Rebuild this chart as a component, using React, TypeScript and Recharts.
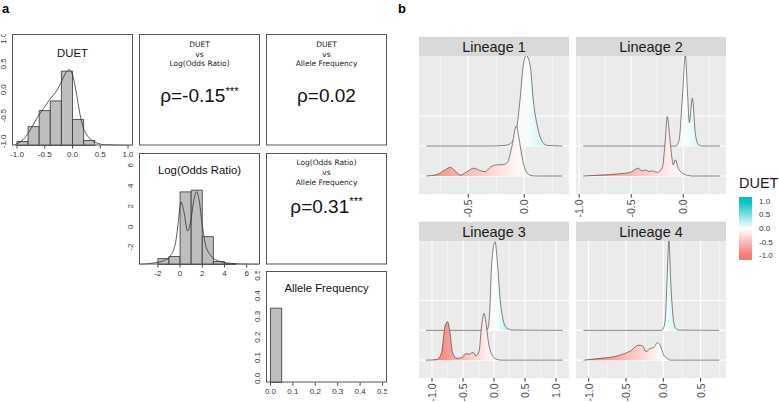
import React from 'react';
import {
  ComposedChart,
  Line,
  Area,
  XAxis,
  YAxis,
  CartesianGrid,
  ReferenceArea,
} from 'recharts';

const FONT = '"Liberation Sans", Arial, sans-serif';
const SMALL_FONT = '"DejaVu Sans", Verdana, sans-serif';

// ---------- panel a: histograms (bin edges, heights scaled so tallest = 1) ----------
const duetEdges = [-1.0, -0.8, -0.6, -0.4, -0.2, 0.0, 0.2, 0.4];
const duetHeights = [0.054, 0.254, 0.47, 0.6, 1.0, 0.35, 0.067];
const duetDensity = [
  { x: -1.04, y: 0.01 }, { x: -0.89, y: 0.08 }, { x: -0.76, y: 0.21 },
  { x: -0.64, y: 0.37 }, { x: -0.52, y: 0.5 }, { x: -0.39, y: 0.64 },
  { x: -0.3, y: 0.72 }, { x: -0.21, y: 0.84 }, { x: -0.12, y: 0.98 },
  { x: -0.06, y: 1.02 }, { x: 0.0, y: 0.95 }, { x: 0.06, y: 0.75 },
  { x: 0.12, y: 0.48 }, { x: 0.19, y: 0.25 }, { x: 0.28, y: 0.12 },
  { x: 0.4, y: 0.05 }, { x: 0.58, y: 0.01 }, { x: 1.05, y: 0 },
];

const logEdges = [-2, -1, 0, 1, 2, 3, 4, 5];
const logHeights = [0.08, 0.107, 0.977, 1.0, 0.375, 0.04, 0.012];
const logDensity = [
  { x: -3.6, y: 0 }, { x: -2.4, y: 0.02 }, { x: -1.5, y: 0.05 },
  { x: -0.86, y: 0.12 }, { x: -0.4, y: 0.3 }, { x: -0.2, y: 0.52 },
  { x: 0.08, y: 0.84 }, { x: 0.33, y: 0.72 }, { x: 0.68, y: 0.45 },
  { x: 0.96, y: 0.58 }, { x: 1.23, y: 0.86 }, { x: 1.5, y: 0.98 },
  { x: 1.7, y: 0.88 }, { x: 2.0, y: 0.53 }, { x: 2.3, y: 0.26 },
  { x: 2.77, y: 0.12 }, { x: 3.4, y: 0.05 }, { x: 4.3, y: 0.02 },
  { x: 5.5, y: 0.005 }, { x: 7.0, y: 0 },
];

const afEdges = [0, 0.05];
const afHeights = [1.0];

const duetTicks = [-1, -0.5, 0, 0.5, 1];
const logTicks = [-2, 0, 2, 4, 6];
const afTicks = [0, 0.1, 0.2, 0.3, 0.4, 0.5];

// ---------- panel b: density ridges per lineage (x = DUET, h = height in row units) ----------
const l1Upper = [
  { x: -0.875, h: 0 }, { x: -0.3, h: 0 }, { x: -0.17, h: 0.02 }, { x: -0.125, h: 0.08 },
  { x: -0.08, h: 0.35 }, { x: -0.054, h: 0.95 }, { x: -0.036, h: 1.6 }, { x: -0.009, h: 2.68 },
  { x: 0.018, h: 3.02 }, { x: 0.054, h: 2.66 }, { x: 0.08, h: 1.56 }, { x: 0.125, h: 0.54 },
  { x: 0.17, h: 0.1 }, { x: 0.21, h: 0.02 }, { x: 0.34, h: 0 },
];
const l1Lower = [
  { x: -0.875, h: 0 }, { x: -0.78, h: 0.05 }, { x: -0.7, h: 0.22 }, { x: -0.66, h: 0.29 },
  { x: -0.62, h: 0.18 }, { x: -0.57, h: 0.03 }, { x: -0.51, h: 0.15 }, { x: -0.45, h: 0.26 },
  { x: -0.4, h: 0.19 }, { x: -0.35, h: 0.14 }, { x: -0.3, h: 0.3 }, { x: -0.25, h: 0.37 },
  { x: -0.19, h: 0.38 }, { x: -0.15, h: 0.45 }, { x: -0.11, h: 0.99 }, { x: -0.07, h: 1.67 },
  { x: -0.05, h: 1.33 }, { x: -0.02, h: 0.65 }, { x: 0.01, h: 0.2 }, { x: 0.05, h: 0.03 },
  { x: 0.1, h: 0 }, { x: 0.34, h: 0 },
];
const l2Upper = [
  { x: -0.96, h: 0 }, { x: -0.07, h: 0 }, { x: -0.04, h: 0.2 }, { x: -0.01, h: 1.56 },
  { x: 0.02, h: 3.02 }, { x: 0.04, h: 1.8 }, { x: 0.058, h: 0.78 }, { x: 0.087, h: 1.59 },
  { x: 0.115, h: 0.44 }, { x: 0.144, h: 0.05 }, { x: 0.18, h: 0 }, { x: 0.35, h: 0 },
];
const l2Lower = [
  { x: -0.96, h: 0 }, { x: -0.8, h: 0.03 }, { x: -0.63, h: 0.07 }, { x: -0.51, h: 0.12 },
  { x: -0.43, h: 0.26 }, { x: -0.4, h: 0.17 }, { x: -0.365, h: 0.2 }, { x: -0.33, h: 0.15 },
  { x: -0.3, h: 0.17 }, { x: -0.25, h: 0.12 }, { x: -0.2, h: 0.29 }, { x: -0.173, h: 1.2 },
  { x: -0.154, h: 1.98 }, { x: -0.125, h: 1.1 }, { x: -0.096, h: 0.37 }, { x: -0.077, h: 0.54 },
  { x: -0.048, h: 0.25 }, { x: -0.01, h: 0.1 }, { x: 0.04, h: 0.02 }, { x: 0.1, h: 0 },
  { x: 0.35, h: 0 },
];
const l3Upper = [
  { x: -1.1, h: 0 }, { x: -0.12, h: 0 }, { x: -0.09, h: 0.14 }, { x: -0.065, h: 0.8 },
  { x: -0.04, h: 2.14 }, { x: 0.016, h: 2.98 }, { x: 0.06, h: 2.14 }, { x: 0.1, h: 1.03 },
  { x: 0.145, h: 0.37 }, { x: 0.2, h: 0.09 }, { x: 0.3, h: 0.01 }, { x: 1.11, h: 0 },
];
const l3Lower = [
  { x: -1.1, h: 0 }, { x: -0.92, h: 0.02 }, { x: -0.845, h: 0.26 }, { x: -0.79, h: 1.14 },
  { x: -0.75, h: 1.29 }, { x: -0.71, h: 0.92 }, { x: -0.67, h: 0.26 }, { x: -0.6, h: 0.06 },
  { x: -0.52, h: 0.09 }, { x: -0.45, h: 0.22 }, { x: -0.4, h: 0.2 }, { x: -0.34, h: 0.26 },
  { x: -0.29, h: 0.14 }, { x: -0.24, h: 0.31 }, { x: -0.2, h: 1.14 }, { x: -0.16, h: 1.57 },
  { x: -0.13, h: 1.26 }, { x: -0.09, h: 0.6 }, { x: -0.04, h: 0.2 }, { x: 0.04, h: 0.03 },
  { x: 0.12, h: 0 }, { x: 1.11, h: 0 },
];
const l4Upper = [
  { x: -1.07, h: 0 }, { x: -0.03, h: 0 }, { x: 0.004, h: 0.09 }, { x: 0.027, h: 0.37 },
  { x: 0.049, h: 1.59 }, { x: 0.075, h: 3.0 }, { x: 0.1, h: 1.59 }, { x: 0.13, h: 0.48 },
  { x: 0.16, h: 0.09 }, { x: 0.2, h: 0.01 }, { x: 0.75, h: 0 },
];
const l4Lower = [
  { x: -1.07, h: 0 }, { x: -0.84, h: 0.06 }, { x: -0.62, h: 0.14 }, { x: -0.44, h: 0.31 },
  { x: -0.33, h: 0.5 }, { x: -0.28, h: 0.48 }, { x: -0.23, h: 0.28 }, { x: -0.18, h: 0.39 },
  { x: -0.13, h: 0.42 }, { x: -0.076, h: 0.59 }, { x: -0.04, h: 0.48 }, { x: 0.0, h: 0.2 },
  { x: 0.05, h: 0.06 }, { x: 0.1, h: 0 }, { x: 0.75, h: 0 },
];

const lineages = ['Lineage 1', 'Lineage 2', 'Lineage 3', 'Lineage 4'];
const gridRows = [1, 2, 3];
const legendTicks = [-1, -0.5, 0, 0.5, 1];
const legendBar = [{ x: 0, top: 1.15 }, { x: 1, top: 1.15 }];

// DUET colour scale: -1 red, 0 white, 1 teal
const LOW = [248, 118, 109];
const MID = [255, 255, 255];
const HIGH = [0, 191, 196];
const duetColor = (v: number) => {
  const t = Math.max(-1, Math.min(1, v));
  const end = t < 0 ? LOW : HIGH;
  const f = Math.abs(t);
  const c = MID.map((m, i) => Math.round(m + (end[i] - m) * f));
  return `rgb(${c[0]},${c[1]},${c[2]})`;
};

const gradientStops = (from: number, to: number) =>
  Array.from({ length: 13 }, (_, i) => (
    <stop key={i} offset={`${(i / 12) * 100}%`} stopColor={duetColor(from + ((to - from) * i) / 12)} />
  ));

type Box = { x: number; y: number; w: number; h: number };

const cols = [12, 139, 266];
const rows = [34, 153, 271];
const BW = 121;
const BH = 111.5;
const box = (c: number, r: number): Box => ({ x: cols[c], y: rows[r], w: BW, h: BH });

const AX = 22;

function DiagPanel(props: {
  b: Box;
  xDomain: number[];
  yDomain: number[];
  xTicks: number[];
  yTicks: number[];
  fmt: (v: number) => string;
  edges: number[];
  heights: number[];
  density?: { x: number; y: number }[];
}) {
  const { b, xDomain, yDomain, xTicks, yTicks, fmt, edges, heights, density } = props;
  const xTick = (p: any) => (
    <text x={p.x} y={b.h + 9} textAnchor="middle" dominantBaseline="central"
      fontSize={8} fill="#333" fontFamily={FONT}>{fmt(p.payload.value)}</text>
  );
  const yTick = (p: any) => (
    <text x={AX - 8.5} y={p.y} transform={`rotate(-90, ${AX - 8.5}, ${p.y})`} textAnchor="middle"
      dominantBaseline="central" fontSize={8} fill="#333" fontFamily={FONT}>{fmt(p.payload.value)}</text>
  );
  return (
    <div style={{ position: 'absolute', left: b.x - AX, top: b.y }}>
      <ComposedChart width={b.w + AX} height={b.h + AX} data={edges.map((e) => ({ x: e }))}
        margin={{ top: 0, right: 0, bottom: 0, left: 0 }}>
        <XAxis type="number" dataKey="x" domain={xDomain} ticks={xTicks} tick={xTick} interval={0}
          tickSize={3} tickLine={{ stroke: '#444' }} axisLine={false} height={AX} allowDataOverflow />
        <YAxis yAxisId="v" type="number" domain={yDomain} ticks={yTicks} tick={yTick} interval={0}
          tickSize={3} tickLine={{ stroke: '#444' }} axisLine={false} width={AX} allowDataOverflow />
        <YAxis yAxisId="c" type="number" domain={[0, 1.5]} hide allowDataOverflow />
        {heights.map((h, i) => (
          <ReferenceArea key={i} yAxisId="c" x1={edges[i]} x2={edges[i + 1]} y1={0} y2={h}
            fill="#BEBEBE" fillOpacity={1} stroke="#333" strokeWidth={0.8} ifOverflow="visible" />
        ))}
        {density && (
          <Line yAxisId="c" data={density} dataKey="y" type="monotone" stroke="#333"
            strokeWidth={0.8} dot={false} isAnimationActive={false} />
        )}
      </ComposedChart>
    </div>
  );
}

const facets = [
  { left: 419, top: 56, h: 138, domain: [-0.94, 0.4], major: [-0.5, 0], minor: [-0.75, -0.25, 0.25], upper: l1Upper, lower: l1Lower },
  { left: 576, top: 56, h: 138, domain: [-1.03, 0.41], major: [-1, -0.5, 0], minor: [-0.75, -0.25, 0.25], upper: l2Upper, lower: l2Lower },
  { left: 419, top: 241, h: 137, domain: [-1.21, 1.21], major: [-1, -0.5, 0, 0.5, 1], minor: [-0.75, -0.25, 0.25, 0.75], upper: l3Upper, lower: l3Lower },
  { left: 576, top: 241, h: 137, domain: [-1.17, 0.84], major: [-1, -0.5, 0, 0.5], minor: [-0.75, -0.25, 0.25, 0.75], upper: l4Upper, lower: l4Lower },
];
const FW = 150;
const PAD = 8;

function Facet({ f, idx }: { f: (typeof facets)[number]; idx: number }) {
  const tick = (p: any) => (
    <text x={p.x} y={f.h + 5.5} transform={`rotate(-90, ${p.x}, ${f.h + 5.5})`} textAnchor="end"
      dominantBaseline="central" fontSize={10.5} fill="#4D4D4D" fontFamily={FONT}>
      {p.payload.value.toFixed(1)}
    </text>
  );
  const ridges = [
    { data: f.upper, base: 2 },
    { data: f.lower, base: 1 },
  ];
  return (
    <div style={{ position: 'absolute', left: f.left - PAD, top: f.top }}>
      <ComposedChart width={FW + 2 * PAD} height={f.h + 30}
        margin={{ top: 0, right: PAD, bottom: 0, left: PAD }}>
        <defs>
          {ridges.map((r, k) => (
            <linearGradient key={k} id={`ridge-${idx}-${k}`} x1="0" y1="0" x2="1" y2="0">
              {gradientStops(r.data[0].x, r.data[r.data.length - 1].x)}
            </linearGradient>
          ))}
        </defs>
        <CartesianGrid fill="#EBEBEB" fillOpacity={1} stroke="#FFFFFF" strokeWidth={0.55}
          horizontal={false} verticalValues={f.minor} />
        <CartesianGrid stroke="#FFFFFF" strokeWidth={1.1} verticalValues={f.major}
          horizontalValues={gridRows} />
        <XAxis type="number" dataKey="x" domain={f.domain} ticks={f.major} tick={tick} interval={0}
          tickSize={3.6} tickLine={{ stroke: '#333' }} axisLine={false} height={30} allowDataOverflow />
        <YAxis type="number" domain={[0.4, 5]} hide allowDataOverflow />
        {ridges.map((r, k) => (
          <Area key={k} data={r.data} dataKey={(d: any) => r.base + d.h} baseValue={r.base}
            type="monotone" fill={`url(#ridge-${idx}-${k})`} fillOpacity={1} stroke="#333"
            strokeWidth={0.6} isAnimationActive={false} />
        ))}
      </ComposedChart>
    </div>
  );
}

function Legend() {
  const tick = (p: any) => (
    <text x={20} y={p.y} dominantBaseline="central" fontSize={8} fill="#333" fontFamily={FONT}>
      {p.payload.value.toFixed(1)}
    </text>
  );
  return (
    <div style={{ position: 'absolute', left: 739, top: 197 }}>
      <ComposedChart width={40} height={63} data={legendBar}
        margin={{ top: 0, right: 0, bottom: 0, left: 0 }}>
        <defs>
          <linearGradient id="legend-grad" x1="0" y1="0" x2="0" y2="1">
            {gradientStops(1.15, -1.15)}
          </linearGradient>
        </defs>
        <XAxis type="number" dataKey="x" domain={[0, 1]} height={0} tick={false} tickLine={false}
          axisLine={false} />
        <YAxis type="number" orientation="right" domain={[-1.15, 1.15]} ticks={legendTicks}
          interval={0} tick={tick} width={27} tickLine={false} axisLine={false} allowDataOverflow />
        <Area dataKey="top" baseValue={-1.15} type="linear" fill="url(#legend-grad)" fillOpacity={1}
          stroke="none" isAnimationActive={false} />
      </ComposedChart>
    </div>
  );
}

const fmt1 = (v: number) => v.toFixed(1);
const fmt0 = (v: number) => String(v);

function CorrText({ cx, top, rhoY, lines, rho, stars }: {
  cx: number; top: number; rhoY: number; lines: string[]; rho: string; stars: string;
}) {
  return (
    <g>
      {lines.map((l, i) => (
        <text key={i} x={cx} y={top + i * 9.8} textAnchor="middle" fontSize={7.5} fill="#222"
          fontFamily={SMALL_FONT}>{l}</text>
      ))}
      <text x={cx} y={rhoY} textAnchor="middle" fontSize={19} fill="#111" fontFamily={FONT}>
        {rho}
        {stars && <tspan fontSize={11.5} dy={-7.5}>{stars}</tspan>}
      </text>
    </g>
  );
}

export default function App() {
  const boxes = [box(0, 0), box(1, 0), box(2, 0), box(1, 1), box(2, 1), box(2, 2)];
  return (
    <div style={{ position: 'absolute', left: 0, top: 0, width: 779, height: 402, background: '#fff', overflow: 'hidden', fontFamily: FONT }}>
      <DiagPanel b={box(0, 0)} xDomain={[-1.09, 1.09]} yDomain={[-1.08, 1.08]} xTicks={duetTicks}
        yTicks={duetTicks} fmt={fmt1} edges={duetEdges} heights={duetHeights} density={duetDensity} />
      <DiagPanel b={box(1, 1)} xDomain={[-3.7, 7.2]} yDomain={[-3.7, 7.2]} xTicks={logTicks}
        yTicks={logTicks} fmt={fmt0} edges={logEdges} heights={logHeights} density={logDensity} />
      <DiagPanel b={box(2, 2)} xDomain={[-0.02, 0.52]} yDomain={[-0.02, 0.52]} xTicks={afTicks}
        yTicks={afTicks} fmt={fmt1} edges={afEdges} heights={afHeights} />

      {facets.map((f, i) => (
        <Facet key={i} f={f} idx={i} />
      ))}
      <Legend />

      <svg width={779} height={402} style={{ position: 'absolute', left: 0, top: 0, pointerEvents: 'none' }}>
        <text x={2} y={12.5} fontSize={13} fontWeight="bold" fontFamily={FONT}>a</text>
        <text x={398} y={12.5} fontSize={13} fontWeight="bold" fontFamily={FONT}>b</text>

        {boxes.map((b, i) => (
          <rect key={i} x={b.x + 0.5} y={b.y + 0.5} width={b.w - 1} height={b.h - 1} fill="none"
            stroke="#555" strokeWidth={1} />
        ))}

        <text x={72.5} y={56.7} textAnchor="middle" fontSize={11.3} fill="#111">DUET</text>
        <text x={199.5} y={173.5} textAnchor="middle" fontSize={11.3} fill="#111">Log(Odds Ratio)</text>
        <text x={326.5} y={292} textAnchor="middle" fontSize={11.3} fill="#111">Allele Frequency</text>

        <CorrText cx={199.5} top={46.7} rhoY={102} lines={['DUET', 'vs', 'Log(Odds Ratio)']} rho="ρ=-0.15" stars="***" />
        <CorrText cx={326.5} top={46.7} rhoY={102} lines={['DUET', 'vs', 'Allele Frequency']} rho="ρ=0.02" stars="" />
        <CorrText cx={326.5} top={165} rhoY={212.5} lines={['Log(Odds Ratio)', 'vs', 'Allele Frequency']} rho="ρ=0.31" stars="***" />

        {facets.map((f, i) => (
          <g key={i}>
            <rect x={f.left} y={f.top - 19.3} width={FW} height={19.3} fill="#D9D9D9" />
            <text x={f.left + FW / 2} y={f.top - 4} textAnchor="middle" fontSize={14.5} fill="#1A1A1A">
              {lineages[i]}
            </text>
          </g>
        ))}

        <text x={739} y={188} fontSize={14.5} fill="#1A1A1A">DUET</text>
      </svg>
    </div>
  );
}
